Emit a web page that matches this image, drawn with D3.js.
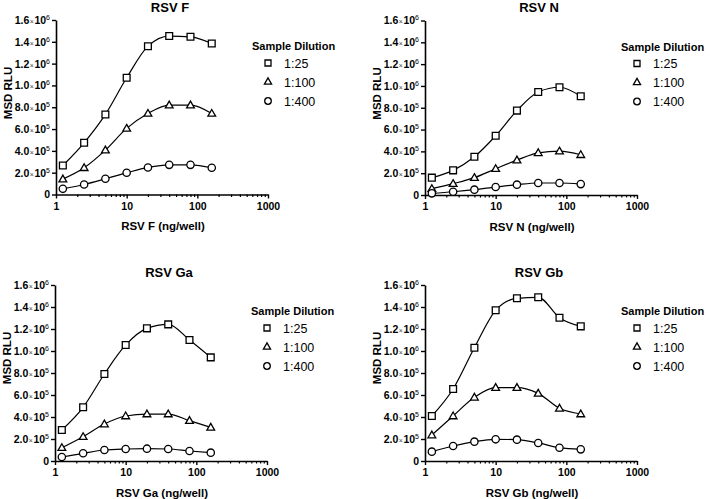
<!DOCTYPE html>
<html><head><meta charset="utf-8">
<script src="https://cdn.jsdelivr.net/npm/d3@7"></script>
<style>body{margin:0;background:#fff}</style>
</head><body>
<svg id="c" width="710" height="499"></svg>
<script>
// ---------- data ----------
const concentrations = [1.25, 2.5, 5, 10, 20, 40, 80, 160];
const dilutions = ["1:25", "1:100", "1:400"];
const panelTitles = ["RSV F", "RSV N", "RSV Ga", "RSV Gb"];
const xAxisTitles = ["RSV F (ng/well)", "RSV N (ng/well)", "RSV Ga (ng/well)", "RSV Gb (ng/well)"];
const yAxisTitle = "MSD RLU";
const legendTitle = "Sample Dilution";
const yTickValues = [0, 2e5, 4e5, 6e5, 8e5, 1e6, 1.2e6, 1.4e6, 1.6e6];
const yTickMantissa = ["0", "2.0", "4.0", "6.0", "8.0", "1.0", "1.2", "1.4", "1.6"];
const yTickExponent = ["", "5", "5", "5", "5", "6", "6", "6", "6"];
const xTickValues = [1, 10, 100, 1000];
const xTickLabels = ["1", "10", "100", "1000"];

const rsvF_25  = [266000, 474000, 734000, 1070000, 1360000, 1453000, 1446000, 1385000];
const rsvF_100 = [141000, 245000, 407000, 606000, 743000, 820000, 820000, 743000];
const rsvF_400 = [52000, 92000, 144000, 199000, 248000, 272000, 272000, 245000];

const rsvN_25  = [159000, 226000, 350000, 543000, 774000, 945000, 988000, 905000];
const rsvN_100 = [58000, 104000, 159000, 241000, 320000, 387000, 402000, 369000];
const rsvN_400 = [15000, 30000, 49000, 73000, 95000, 110000, 110000, 100000];

const rsvGa_25  = [282000, 488000, 791000, 1055000, 1206000, 1242000, 1100000, 942000];
const rsvGa_100 = [121000, 221000, 336000, 409000, 427000, 427000, 367000, 306000];
const rsvGa_400 = [36000, 70000, 100000, 109000, 112000, 109000, 91000, 76000];

const rsvGb_25  = [409000, 655000, 1030000, 1370000, 1479000, 1488000, 1303000, 1224000];
const rsvGb_100 = [236000, 409000, 579000, 667000, 667000, 615000, 479000, 427000];
const rsvGb_400 = [85000, 136000, 176000, 197000, 194000, 164000, 121000, 106000];

const panelSeries = [
  [rsvF_25, rsvF_100, rsvF_400],
  [rsvN_25, rsvN_100, rsvN_400],
  [rsvGa_25, rsvGa_100, rsvGa_400],
  [rsvGb_25, rsvGb_100, rsvGb_400]
];

// ---------- layout ----------
const layout = [
  {ax: 56,  base: 194.5, top: 20},
  {ax: 425, base: 195,   top: 20.5},
  {ax: 55,  base: 461,   top: 285},
  {ax: 425, base: 461,   top: 285}
];
const plotW = 212;
const FONT = "'Liberation Sans', Arial, Helvetica, sans-serif";
const symbolTypes = [d3.symbolSquare, d3.symbolTriangle, d3.symbolCircle];
const symbolSizes = [46, 26, 42];
const legendSymbolSizes = [36, 22, 34];

const svg = d3.select("#c");
svg.append("rect").attr("width", 710).attr("height", 499).attr("fill", "#fff");

layout.forEach((p, i) => {
  const x = d3.scaleLog().domain([1, 1000]).range([p.ax, p.ax + plotW]);
  const y = d3.scaleLinear().domain([0, 1.6e6]).range([p.base, p.top]);
  const g = svg.append("g");

  // y axis
  const ya = g.append("g")
    .attr("transform", `translate(${p.ax},0)`)
    .call(d3.axisLeft(y).tickValues(yTickValues).tickSize(4).tickSizeOuter(0).tickPadding(2).tickFormat(() => ""));
  ya.select(".domain").attr("stroke", "#000").attr("stroke-width", 1.6);
  ya.selectAll(".tick line").attr("stroke", "#000").attr("stroke-width", 1.4);
  ya.selectAll(".tick text").each(function(d, k) {
    const t = d3.select(this)
      .attr("font-family", FONT).attr("font-size", 10.5).attr("font-weight", "bold").attr("fill", "#000");
    t.append("tspan").text(yTickMantissa[k]);
    if (yTickExponent[k]) {
      t.append("tspan").attr("font-size", 7).attr("font-weight", "normal").attr("fill", "#444").attr("dx", 0.5).text("\u00d7");
      t.append("tspan").attr("dx", 0.5).text("10");
      t.append("tspan").attr("font-size", 7).attr("font-weight", "normal").attr("dy", -4).text(yTickExponent[k]);
    }
  });

  // x axis: minor ticks
  const minor = [];
  [1, 10, 100].forEach(dec => { for (let m = 2; m <= 9; m++) minor.push(dec * m); });
  const xm = g.append("g")
    .attr("transform", `translate(0,${p.base})`)
    .call(d3.axisBottom(x).tickValues(minor).tickSize(2.5).tickSizeOuter(0).tickFormat(() => ""));
  xm.select(".domain").remove();
  xm.selectAll(".tick line").attr("stroke", "#000").attr("stroke-width", 1.2);

  const xa = g.append("g")
    .attr("transform", `translate(0,${p.base})`)
    .call(d3.axisBottom(x).tickValues(xTickValues).tickSize(4).tickSizeOuter(0).tickPadding(4)
      .tickFormat((d, k) => xTickLabels[k]));
  xa.select(".domain").attr("stroke", "#000").attr("stroke-width", 1.6);
  xa.selectAll(".tick line").attr("stroke", "#000").attr("stroke-width", 1.4);
  xa.selectAll(".tick text").attr("font-family", FONT).attr("font-size", 10.5)
    .attr("font-weight", "bold").attr("fill", "#000");

  // titles
  g.append("text").attr("x", p.ax + 114).attr("y", p.top - 8.5)
    .attr("text-anchor", "middle").attr("font-family", FONT).attr("font-size", 13)
    .attr("font-weight", "bold").text(panelTitles[i]);
  g.append("text").attr("x", p.ax + 107).attr("y", p.base + 35.5)
    .attr("text-anchor", "middle").attr("font-family", FONT).attr("font-size", 11.5)
    .attr("font-weight", "bold").text(xAxisTitles[i]);
  g.append("text")
    .attr("transform", `translate(${p.ax - 44},${p.top + 73}) rotate(-90)`)
    .attr("text-anchor", "middle").attr("font-family", FONT).attr("font-size", 11.5)
    .attr("font-weight", "bold").text(yAxisTitle);

  // series
  const line = d3.line().x(d => x(d[0])).y(d => y(d[1])).curve(d3.curveMonotoneX);
  panelSeries[i].forEach((vals, s) => {
    const pts = concentrations.map((c, k) => [c, vals[k]]);
    g.append("path").datum(pts).attr("d", line)
      .attr("fill", "none").attr("stroke", "#000").attr("stroke-width", 1.2);
    g.selectAll(null).data(pts).enter().append("path")
      .attr("transform", d => `translate(${x(d[0])},${y(d[1]) + (s === 1 ? 0.5 : 0)})`)
      .attr("d", d3.symbol().type(symbolTypes[s]).size(symbolSizes[s]))
      .attr("fill", "#fff").attr("stroke", "#000").attr("stroke-width", 1.3);
  });

  // legend
  const lx = p.ax + 196, ly = p.top + 26;
  g.append("text").attr("x", lx).attr("y", ly + 4)
    .attr("font-family", FONT).attr("font-size", 11).attr("font-weight", "bold").text(legendTitle);
  dilutions.forEach((lab, s) => {
    const cy = ly + 17 + s * 19;
    g.append("path").attr("transform", `translate(${lx + 16},${cy})`)
      .attr("d", d3.symbol().type(symbolTypes[s]).size(legendSymbolSizes[s]))
      .attr("fill", "#fff").attr("stroke", "#000").attr("stroke-width", 1.3);
    g.append("text").attr("x", lx + 32).attr("y", cy + 4.5)
      .attr("font-family", FONT).attr("font-size", 12.5).text(lab);
  });
});
</script>
</body></html>
